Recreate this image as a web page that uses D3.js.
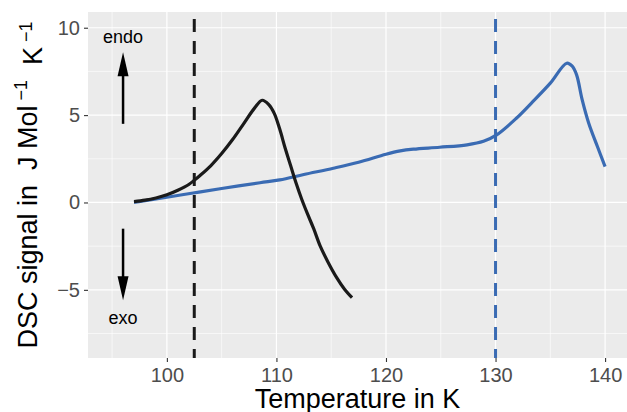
<!DOCTYPE html>
<html><head><meta charset="utf-8">
<script src="https://cdn.jsdelivr.net/npm/d3@7"></script>
<style>body{margin:0;background:#fff}svg{display:block}text{font-family:"Liberation Sans",Arial,sans-serif}</style>
</head><body>
<svg id="c" width="627" height="412"></svg>
<script>
const xTicks = [100, 110, 120, 130, 140];
const yTicks = [-5, 0, 5, 10];
const xMinor = [95, 105, 115, 125, 135];
const yMinor = [-7.5, -2.5, 2.5, 7.5];

const blackT = [97.0, 98, 99, 100, 101, 102, 102.5, 103, 104, 105, 106, 107, 108, 108.7, 109.3, 109.8, 110.3, 110.8, 111.3, 111.8, 112.3, 112.8, 113.4, 114.0, 114.7, 115.5, 116.2, 116.9];
const blackSignal = [0.05, 0.13, 0.26, 0.44, 0.7, 1.03, 1.27, 1.53, 2.1, 2.8, 3.6, 4.5, 5.4, 5.85, 5.6, 5.1, 4.2, 3.1, 2.1, 1.1, 0.2, -0.6, -1.5, -2.5, -3.4, -4.3, -4.95, -5.45];

const blueT = [97, 100, 102.4, 105, 108.5, 110.3, 112.5, 115.2, 117.5, 120, 121.3, 122.5, 124.9, 127.4, 128.9, 130.1, 131.9, 133.4, 135.0, 136.5, 137.0, 137.4, 137.9, 138.5, 139.3, 140.0];
const blueSignal = [0.0, 0.3, 0.54, 0.8, 1.13, 1.29, 1.6, 1.96, 2.3, 2.76, 2.95, 3.05, 3.16, 3.3, 3.5, 3.87, 4.82, 5.77, 6.83, 7.97, 7.8, 7.3, 5.9, 4.55, 3.2, 2.05];

const vlines = [102.5, 130];
const vlineColors = ["#1a1a1a", "#3a6bb3"];
const arrowX = 96;
const arrowUp = [4.5, 8.6];
const arrowDown = [-1.5, -5.6];
const labels = [{t: "endo", v: 9.5}, {t: "exo", v: -6.6}];

const svg = d3.select("#c");
const L = 88, R = 627, T = 12, B = 358;
const x = d3.scaleLinear().domain([92.8, 142.0]).range([L, R]);
const y = d3.scaleLinear().domain([-8.9, 10.9]).range([B, T]);

svg.append("rect").attr("x", L).attr("y", T).attr("width", R - L).attr("height", B - T).attr("fill", "#ebebeb");

const g = svg.append("g");
g.selectAll(".xmin").data(xMinor).join("line").attr("x1", d => x(d)).attr("x2", d => x(d)).attr("y1", T).attr("y2", B).attr("stroke", "#fff").attr("stroke-width", 0.6);
g.selectAll(".ymin").data(yMinor).join("line").attr("y1", d => y(d)).attr("y2", d => y(d)).attr("x1", L).attr("x2", R).attr("stroke", "#fff").attr("stroke-width", 0.6);
g.selectAll(".xmaj").data(xTicks).join("line").attr("x1", d => x(d)).attr("x2", d => x(d)).attr("y1", T).attr("y2", B).attr("stroke", "#fff").attr("stroke-width", 1.2);
g.selectAll(".ymaj").data(yTicks).join("line").attr("y1", d => y(d)).attr("y2", d => y(d)).attr("x1", L).attr("x2", R).attr("stroke", "#fff").attr("stroke-width", 1.2);

// axes
const xAxis = svg.append("g").attr("transform", `translate(0,${B})`)
  .call(d3.axisBottom(x).tickValues(xTicks).tickSize(4).tickPadding(4).tickFormat(d3.format("d")));
const yAxis = svg.append("g").attr("transform", `translate(${L},0)`)
  .call(d3.axisLeft(y).tickValues(yTicks).tickSize(4).tickPadding(4).tickFormat(d => d < 0 ? "\u2212" + Math.abs(d) : d));
[xAxis, yAxis].forEach(a => {
  a.select(".domain").remove();
  a.selectAll(".tick line").attr("stroke", "#333").attr("stroke-width", 1.1);
  a.selectAll(".tick text").attr("fill", "#4d4d4d").style("font-size", "20px");
});
xAxis.selectAll(".tick text").attr("dy", "0.8em");

// vertical dashed lines
svg.selectAll(".vl").data(vlines).join("line")
  .attr("x1", d => x(d)).attr("x2", d => x(d)).attr("y1", T).attr("y2", B)
  .attr("stroke", (d, i) => vlineColors[i]).attr("stroke-width", 3)
  .attr("stroke-dasharray", "13,9").attr("stroke-dashoffset", 15);

// curves
const line = d3.line().x(d => x(d[0])).y(d => y(d[1])).curve(d3.curveCatmullRom.alpha(0.5));
svg.append("path").datum(d3.zip(blueT, blueSignal)).attr("d", line)
  .attr("fill", "none").attr("stroke", "#3a6bb3").attr("stroke-width", 3.2).attr("stroke-linejoin", "round");
svg.append("path").datum(d3.zip(blackT, blackSignal)).attr("d", line)
  .attr("fill", "none").attr("stroke", "#1a1a1a").attr("stroke-width", 3.2).attr("stroke-linejoin", "round");

// arrows
function arrow(v0, v1) {
  const x0 = x(arrowX), y0 = y(v0), y1 = y(v1);
  const dir = Math.sign(y1 - y0), head = 24, hw = 5.5;
  svg.append("line").attr("x1", x0).attr("x2", x0).attr("y1", y0).attr("y2", y1 - dir * head * 0.8)
    .attr("stroke", "#000").attr("stroke-width", 2.5);
  svg.append("path").attr("d", `M${x0},${y1}L${x0 - hw},${y1 - dir * head}L${x0 + hw},${y1 - dir * head}Z`).attr("fill", "#000");
}
arrow(arrowUp[0], arrowUp[1]);
arrow(arrowDown[0], arrowDown[1]);
svg.selectAll(".lab").data(labels).join("text").attr("x", x(arrowX)).attr("y", d => y(d.v)).attr("dy", "0.35em")
  .attr("text-anchor", "middle").style("font-size", "18px").attr("fill", "#000").text(d => d.t);

// axis titles
svg.append("text").attr("x", (L + R) / 2).attr("y", 407.5).attr("text-anchor", "middle")
  .style("font-size", "27px").attr("fill", "#000").text("Temperature in K");
const yt = svg.append("text").attr("transform", `translate(37,${(T + B) / 2}) rotate(-90)`).attr("text-anchor", "middle")
  .style("font-size", "27px").attr("fill", "#000").style("white-space", "pre");
yt.append("tspan").text("DSC signal in  J Mol");
yt.append("tspan").attr("dy", "-0.55em").style("font-size", "18px").text(" \u22121");
yt.append("tspan").attr("dy", "0.55em").text("  K");
yt.append("tspan").attr("dy", "-0.55em").style("font-size", "18px").text(" \u22121");
</script>
</body></html>
